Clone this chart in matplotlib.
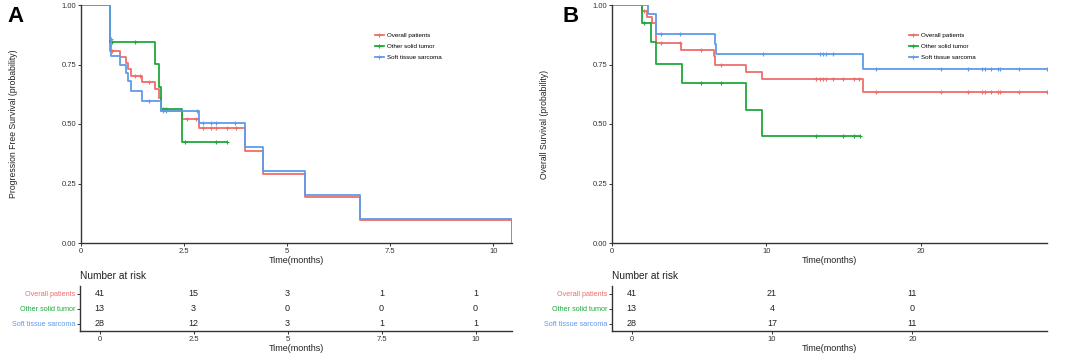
import numpy as np
import matplotlib
matplotlib.use('Agg')
import matplotlib.pyplot as plt

plt.rcParams['font.family'] = ['Liberation Sans', 'DejaVu Sans']

groups = ["Overall patients", "Other solid tumor", "Soft tissue sarcoma"]
colors = ["#EE6E6A", "#1FA83C", "#5F9BEA"]

# Panel A - progression free survival (step curves)
a_over_t = [0, 0.70, 0.94, 1.09, 1.15, 1.21, 1.48, 1.79, 1.89, 1.93, 2.44, 2.87, 3.98, 4.42, 5.44, 6.77, 10.44]
a_over_s = [1.0, 0.805, 0.78, 0.755, 0.73, 0.70, 0.675, 0.645, 0.61, 0.555, 0.523, 0.483, 0.385, 0.29, 0.193, 0.097, 0.0]
a_over_c = [0.76, 1.30, 1.42, 1.66, 2.58, 2.78, 2.95, 3.16, 3.27, 3.53, 3.75]

a_other_t = [0, 0.70, 1.79, 1.89, 1.93, 2.44, 3.53]
a_other_s = [1.0, 0.846, 0.753, 0.656, 0.565, 0.424, 0.424]
a_other_c = [0.74, 1.30, 2.00, 2.05, 2.52, 3.27, 3.53]

a_sts_t = [0, 0.70, 0.73, 0.94, 1.09, 1.15, 1.21, 1.48, 1.93, 2.87, 3.98, 4.42, 5.44, 6.77, 10.44]
a_sts_s = [1.0, 0.857, 0.786, 0.75, 0.714, 0.679, 0.638, 0.598, 0.556, 0.505, 0.404, 0.303, 0.202, 0.101, 0.0]
a_sts_c = [0.72, 1.66, 2.00, 2.05, 2.82, 2.97, 3.16, 3.27, 3.74]

a_risk_times = [0, 2.5, 5, 7.5, 10]
a_risk = [[41, 15, 3, 1, 1],
          [13, 3, 0, 0, 0],
          [28, 12, 3, 1, 1]]
a_xticks = [0, 2.5, 5, 7.5, 10]
a_xticklabels = ["0", "2.5", "5", "7.5", "10"]

# Panel B - overall survival
b_over_t = [0, 1.97, 2.27, 2.62, 2.83, 4.50, 6.60, 6.70, 8.70, 9.73, 16.24, 28.2]
b_over_s = [1.0, 0.976, 0.95, 0.926, 0.84, 0.81, 0.785, 0.75, 0.72, 0.688, 0.635, 0.635]
b_over_c = [2.1, 3.2, 4.43, 5.75, 7.05, 13.25, 13.5, 13.7, 13.9, 14.3, 15.0, 15.7, 16.0,
            17.1, 21.3, 23.1, 24.0, 24.15, 24.6, 25.0, 25.15, 26.4, 28.2]

b_other_t = [0, 1.95, 2.55, 2.88, 4.54, 8.71, 9.73, 16.1]
b_other_s = [1.0, 0.923, 0.846, 0.754, 0.672, 0.56, 0.448, 0.448]
b_other_c = [2.1, 5.75, 7.05, 13.25, 15.0, 15.7, 16.1]

b_sts_t = [0, 2.33, 2.83, 6.66, 6.77, 16.24, 28.2]
b_sts_s = [1.0, 0.964, 0.88, 0.835, 0.793, 0.732, 0.732]
b_sts_c = [3.2, 4.43, 9.8, 13.5, 13.7, 13.9, 14.3, 17.1, 21.3, 23.1, 24.0, 24.15,
           24.6, 25.0, 25.15, 26.4, 28.2]

b_risk_times = [0, 10, 20]
b_risk = [[41, 21, 11],
          [13, 4, 0],
          [28, 17, 11]]
b_xticks = [0, 10, 20]
b_xticklabels = ["0", "10", "20"]

W, H = 1065, 355
fig = plt.figure(figsize=(W / 100, H / 100), dpi=100)


def px_axes(x0, y0, x1, y1):
    return fig.add_axes([x0 / W, 1 - y1 / H, (x1 - x0) / W, (y1 - y0) / H])


def style_axes(ax):
    for s in ("top", "right"):
        ax.spines[s].set_visible(False)
    for s in ("left", "bottom"):
        ax.spines[s].set_color("#333333")
        ax.spines[s].set_linewidth(1.0)
    ax.tick_params(length=2.5, width=0.7, color="#333333", labelsize=5.5,
                   labelcolor="#333333", pad=1)


def surv_at(t, s, x):
    i = np.searchsorted(t, x, side="right") - 1
    return np.asarray(s)[np.clip(i, 0, len(s) - 1)]


def km_panel(ax, curves, xmax, xticks, xticklabels, ylabel):
    for (t, s, c), col, name in zip(curves, colors, groups):
        ax.step(t, s, where="post", color=col, lw=1.3, label=name)
        cs = surv_at(np.array(t), s, np.array(c))
        ax.plot(c, cs, ls="none", marker="+", ms=3.5, mew=0.8, color=col)
    ax.set_xlim(0, xmax)
    ax.set_ylim(0, 1.0)
    ax.set_xticks(xticks)
    ax.set_xticklabels(xticklabels)
    ax.set_yticks([0, 0.25, 0.5, 0.75, 1.0])
    ax.set_yticklabels(["0.00", "0.25", "0.50", "0.75", "1.00"])
    ax.set_xlabel("Time(months)", fontsize=6.5, labelpad=1, color="#222222")
    ax.set_ylabel(ylabel, fontsize=6.2, labelpad=31, color="#222222")
    style_axes(ax)
    ax.margins(0)
    handles = [plt.Line2D([], [], color=col, lw=1.3, marker="+", ms=3.0, mew=0.8)
               for col in colors]
    ax.legend(handles, groups, loc="upper left", bbox_to_anchor=(0.675, 0.895),
              frameon=False, fontsize=4.5, handlelength=1.4, handletextpad=0.5,
              labelspacing=0.85, borderpad=0)


def risk_table(ax, times, risk, xlim, xticks, xticklabels):
    for row, vals in enumerate(risk):
        y = len(risk) - row
        for t, v in zip(times, vals):
            ax.text(t, y, str(v), ha="center", va="center", fontsize=6.5, color="#222222")
    ax.set_xlim(*xlim)
    ax.set_ylim(0.5, len(risk) + 0.5)
    ax.set_yticks([len(risk) - i for i in range(len(risk))])
    ax.set_yticklabels(groups)
    ax.set_xticks(xticks)
    ax.set_xticklabels(xticklabels)
    ax.set_xlabel("Time(months)", fontsize=6.5, labelpad=1, color="#222222")
    style_axes(ax)
    ax.tick_params(axis="y", labelsize=5.2)
    for lab, col in zip(ax.get_yticklabels(), colors):
        lab.set_color(col)
    ax.set_title("Number at risk", loc="left", fontsize=7.3, pad=5, color="#222222")


# Panel A
axA = px_axes(81, 5, 512, 243)
km_panel(axA, [(a_over_t, a_over_s, a_over_c), (a_other_t, a_other_s, a_other_c),
               (a_sts_t, a_sts_s, a_sts_c)], 10.45, a_xticks, a_xticklabels,
         "Progression Free Survival (probability)")
tA = px_axes(80, 286, 512, 331)
risk_table(tA, a_risk_times, a_risk, (-0.52, 10.97), a_xticks, a_xticklabels)
fig.text(15.5 / W, 1 - 16 / H, "A", fontsize=16, fontweight="bold", ha="center", va="center")

# Panel B
axB = px_axes(612, 5, 1047, 243)
km_panel(axB, [(b_over_t, b_over_s, b_over_c), (b_other_t, b_other_s, b_other_c),
               (b_sts_t, b_sts_s, b_sts_c)], 28.2, b_xticks, b_xticklabels,
         "Overall Survival (probability)")
tB = px_axes(612, 286, 1047, 331)
risk_table(tB, b_risk_times, b_risk, (-1.41, 29.6), b_xticks, b_xticklabels)
fig.text(571 / W, 1 - 16 / H, "B", fontsize=16, fontweight="bold", ha="center", va="center")

fig.savefig("out.png", dpi=100)
